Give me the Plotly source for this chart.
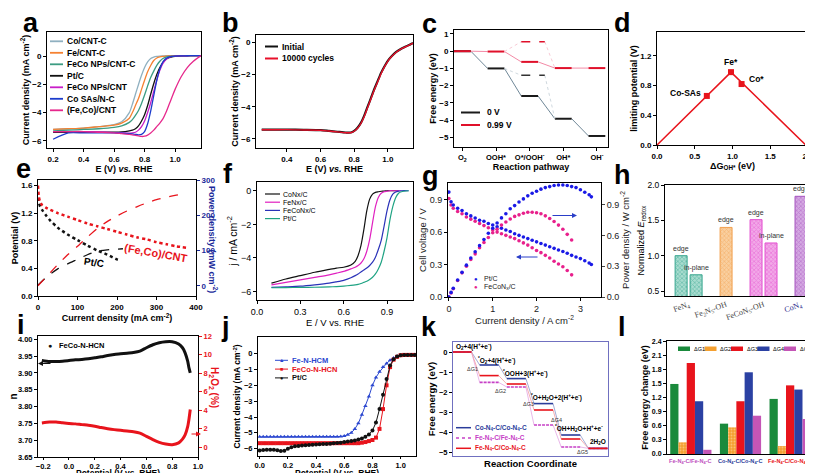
import plotly.graph_objects as go

FONT = "Liberation Sans"
SERIF = "Liberation Serif"
W, H = 813, 473
OFF = 0

# ======================= DATA =======================
# (a) ORR polarization curves
a_E = [0.2, 0.3, 0.4, 0.5, 0.6, 0.65, 0.7, 0.72, 0.74, 0.76, 0.78, 0.8, 0.82, 0.84, 0.86,
       0.88, 0.9, 0.92, 0.94, 0.96, 0.98, 1.0, 1.04, 1.08, 1.12, 1.17]
a_names = ["Co/CNT-C", "Fe/CNT-C", "FeCo NPs/CNT-C", "Pt/C", "FeCo NPs/CNT", "Co SAs/N-C", "(Fe,Co)/CNT"]
a_CoCNTC = [-5.2, -5.15, -5.1, -5.0, -4.85, -4.65, -4.0, -3.4, -2.7, -2.0, -1.35, -0.8, -0.4, -0.15, -0.05,
            0.0, 0.02, 0.03, 0.04, 0.05, 0.05, 0.05, 0.05, 0.05, 0.05, 0.05]
a_FeCNTC = [-5.2, -5.15, -5.1, -5.0, -4.9, -4.75, -4.4, -4.0, -3.5, -3.0, -2.35, -1.7, -1.1, -0.65, -0.3,
            -0.12, -0.04, 0.0, 0.02, 0.03, 0.04, 0.05, 0.05, 0.05, 0.05, 0.05]
a_FeCoNPsCNTC = [-5.3, -5.25, -5.2, -5.15, -5.05, -4.95, -4.7, -4.5, -4.2, -3.85, -3.35, -2.75, -2.1, -1.5, -1.05,
                 -0.65, -0.35, -0.15, -0.05, 0.0, 0.02, 0.03, 0.04, 0.05, 0.05, 0.05]
a_PtC = [-5.4, -5.4, -5.4, -5.4, -5.4, -5.38, -5.3, -5.25, -5.15, -4.95, -4.6, -4.15, -3.5, -2.7, -1.95,
         -1.3, -0.8, -0.45, -0.22, -0.1, -0.03, 0.0, 0.03, 0.04, 0.05, 0.05]
a_FeCoNPsCNT = [-5.35, -5.35, -5.35, -5.38, -5.42, -5.45, -5.47, -5.45, -5.4, -5.25, -5.0, -4.6, -4.0, -3.3, -2.5,
                -1.7, -1.0, -0.5, -0.22, -0.08, 0.0, 0.02, 0.03, 0.04, 0.05, 0.05]
a_CoSAs = [-5.9, -5.45, -5.45, -5.45, -5.45, -5.47, -5.5, -5.52, -5.55, -5.58, -5.55, -5.35, -4.8, -3.9, -2.8,
           -1.7, -0.9, -0.4, -0.15, -0.05, 0.0, 0.02, 0.03, 0.04, 0.05, 0.05]
a_FeCoCNT = [-5.35, -5.35, -5.35, -5.4, -5.45, -5.5, -5.55, -5.58, -5.62, -5.66, -5.7, -5.68, -5.6, -5.45, -5.25,
             -5.0, -4.75, -4.45, -4.0, -3.45, -2.9, -2.35, -1.45, -0.8, -0.35, 0.05]

# (b) stability
b_E = [0.25, 0.3, 0.4, 0.5, 0.6, 0.65, 0.7, 0.75, 0.78, 0.8, 0.82, 0.84, 0.86, 0.88, 0.9, 0.92,
       0.94, 0.96, 0.98, 1.0, 1.02, 1.05, 1.08, 1.1, 1.13, 1.15]
b_names = ["Initial", "10000 cycles"]
b_initial = [-5.42, -5.42, -5.42, -5.43, -5.45, -5.5, -5.55, -5.6, -5.6, -5.5, -5.3, -5.0, -4.55, -4.0, -3.45,
             -2.9, -2.4, -1.9, -1.5, -1.15, -0.9, -0.6, -0.4, -0.3, -0.15, -0.05]
b_cycles = [-5.43, -5.43, -5.42, -5.44, -5.46, -5.51, -5.56, -5.61, -5.61, -5.52, -5.33, -5.04, -4.6, -4.05, -3.5,
            -2.95, -2.45, -1.95, -1.53, -1.18, -0.92, -0.62, -0.41, -0.31, -0.16, -0.06]

# (c) free energy diagram
c_steps = ["O<sub>2</sub>", "OOH*", "O*/OOH<sup>-</sup>", "OH*", "OH<sup>-</sup>"]
c_names = ["0 V", "0.99 V"]
c_0V = [0, -1.0, -2.6, -3.92, -4.92]
c_099V = [0, -0.02, -0.62, -0.98, -0.98]
c_alt_0V = -1.4
c_alt_099V = 0.55

# (d) volcano
d_labels = ["Co-SAs", "Fe*", "Co*"]
d_x = [0.66, 0.98, 1.12]
d_y = [0.66, 0.98, 0.82]
d_volcano_x = [0.0, 0.98, 1.97]
d_volcano_y = [0.0, 0.98, 0.0]

# (e) fuel cell
e_I_fc = [0, 2, 5, 10, 20, 30, 50, 75, 100, 125, 150, 175, 200, 225, 250, 275, 300, 325, 350, 375]
e_V_fc = [1.6, 1.45, 1.37, 1.32, 1.28, 1.25, 1.2, 1.15, 1.1, 1.05, 1.01, 0.97, 0.93, 0.89, 0.85, 0.82,
          0.78, 0.75, 0.72, 0.70]
e_I_pt = [0, 2, 5, 10, 20, 30, 50, 75, 100, 125, 150, 175, 200, 205]
e_V_pt = [1.42, 1.36, 1.3, 1.25, 1.17, 1.1, 0.99, 0.89, 0.81, 0.73, 0.66, 0.6, 0.53, 0.52]
e_Ip_fc = [0, 25, 50, 75, 100, 125, 150, 175, 200, 225, 250, 275, 300, 325, 350, 375]
e_P_fc = [0, 30, 60, 88, 112, 138, 162, 182, 198, 212, 224, 235, 244, 251, 257, 263]
e_Ip_pt = [0, 25, 50, 75, 100, 125, 150, 175, 200, 215]
e_P_pt = [2, 28, 48, 62, 75, 88, 98, 102, 104, 105]
e_names = ["(Fe,Co)/CNT", "Pt/C"]

# (f) LSV
f_E = [0.1, 0.2, 0.3, 0.4, 0.5, 0.55, 0.6, 0.65, 0.68, 0.7, 0.72, 0.74, 0.76, 0.78, 0.8, 0.82,
       0.84, 0.86, 0.88, 0.9, 0.92, 0.94, 0.96, 0.98, 1.0, 1.05]
f_names = ["CoNx/C", "FeNx/C", "FeCoNx/C", "Pt/C"]
f_CoNx = [-5.5, -5.25, -5.05, -4.85, -4.68, -4.6, -4.55, -4.42, -4.2, -3.85, -3.25, -2.3, -1.2, -0.5, -0.2,
          -0.1, -0.06, -0.03, -0.02, 0.0, 0.0, 0.0, 0.0, 0.0, None, None]
f_FeNx = [-5.6, -5.45, -5.3, -5.15, -5.0, -4.9, -4.8, -4.65, -4.55, -4.45, -4.3, -4.05, -3.6, -2.9, -1.9,
          -0.95, -0.4, -0.15, -0.06, -0.03, 0.0, 0.0, 0.0, 0.0, 0.0, None]
f_FeCoNx = [-5.75, -5.72, -5.68, -5.6, -5.5, -5.42, -5.33, -5.18, -5.05, -4.95, -4.83, -4.72, -4.6, -4.45, -4.25,
            -3.95, -3.5, -2.95, -2.1, -1.2, -0.55, -0.2, -0.07, -0.02, 0.0, 0.0]
f_PtC = [-5.77, -5.76, -5.75, -5.74, -5.72, -5.7, -5.67, -5.63, -5.6, -5.57, -5.52, -5.45, -5.38, -5.28, -5.15,
         -4.95, -4.65, -4.25, -3.6, -2.8, -1.75, -0.95, -0.42, -0.15, -0.06, 0.0]

# (g) single cell polarization / power
g_names = ["Pt/C", "FeCoN<sub>x</sub>/C"]
g_I_pt = [0, 0.05, 0.1, 0.2, 0.3, 0.4, 0.5, 0.6, 0.7, 0.8, 0.9, 1.0, 1.1, 1.2, 1.3, 1.4, 1.5, 1.6, 1.7, 1.8,
          1.9, 2.0, 2.1, 2.2, 2.3, 2.4, 2.5, 2.6, 2.7, 2.8, 2.9, 3.0, 3.1, 3.2, 3.25]
g_V_pt = [0.97, 0.88, 0.85, 0.82, 0.80, 0.77, 0.75, 0.73, 0.71, 0.70, 0.68, 0.665, 0.65, 0.635, 0.62, 0.605,
          0.585, 0.57, 0.555, 0.54, 0.525, 0.51, 0.495, 0.48, 0.465, 0.45, 0.435, 0.42, 0.405, 0.385, 0.37,
          0.355, 0.335, 0.315, 0.30]
g_P_pt = [0, 0.045, 0.085, 0.165, 0.24, 0.31, 0.38, 0.44, 0.50, 0.56, 0.62, 0.67, 0.72, 0.77, 0.81, 0.86,
          0.89, 0.925, 0.955, 0.985, 1.01, 1.03, 1.05, 1.065, 1.075, 1.085, 1.09, 1.09, 1.085, 1.075, 1.065,
          1.045, 1.02, 0.995, 0.975]
g_I_fc = [0, 0.05, 0.1, 0.2, 0.3, 0.4, 0.5, 0.6, 0.7, 0.8, 0.9, 1.0, 1.1, 1.2, 1.3, 1.4, 1.5, 1.6, 1.7, 1.8,
          1.9, 2.0, 2.1, 2.2, 2.3, 2.4, 2.5, 2.6, 2.7, 2.8]
g_V_fc = [0.91, 0.85, 0.82, 0.79, 0.77, 0.74, 0.72, 0.70, 0.68, 0.66, 0.64, 0.62, 0.60, 0.585, 0.57, 0.555,
          0.54, 0.52, 0.50, 0.48, 0.455, 0.43, 0.41, 0.385, 0.36, 0.33, 0.305, 0.28, 0.245, 0.205]
g_P_fc = [0, 0.04, 0.08, 0.16, 0.235, 0.30, 0.365, 0.42, 0.48, 0.53, 0.58, 0.625, 0.66, 0.70, 0.73, 0.76,
          0.785, 0.80, 0.815, 0.825, 0.825, 0.82, 0.81, 0.79, 0.765, 0.735, 0.70, 0.66, 0.61, 0.555]

# (h) normalized E_redox
h_cats = ["FeN<sub>4</sub>", "Fe<sub>2</sub>N<sub>5</sub>-OH", "FeCoN<sub>5</sub>-OH", "CoN<sub>4</sub>"]
h_edge = [1.0, 1.4, 1.51, 1.84]
h_inplane = [0.73, None, 1.18, None]

# (i) electron transfer number / H2O2
i_E = [-0.21, -0.15, -0.1, -0.05, 0, 0.05, 0.1, 0.15, 0.2, 0.25, 0.3, 0.35, 0.4, 0.45, 0.5, 0.55, 0.6,
       0.65, 0.7, 0.75, 0.8, 0.85, 0.88, 0.9, 0.92, 0.93, 0.94]
i_n = [3.937, 3.934, 3.934, 3.935, 3.937, 3.939, 3.940, 3.942, 3.945, 3.948, 3.952, 3.955, 3.957, 3.959,
       3.961, 3.965, 3.975, 3.984, 3.990, 3.993, 3.993, 3.986, 3.975, 3.960, 3.935, 3.915, 3.900]
i_h2o2 = [2.6, 2.7, 2.7, 2.62, 2.55, 2.5, 2.42, 2.35, 2.25, 2.1, 1.98, 1.88, 1.8, 1.72, 1.65, 1.5, 1.15,
          0.8, 0.5, 0.32, 0.25, 0.45, 0.85, 1.3, 2.2, 3.0, 4.05]
i_name = "FeCo-N-HCN"

# (j) LSV with markers
j_E = [0, 0.025, 0.05, 0.075, 0.1, 0.125, 0.15, 0.175, 0.2, 0.225, 0.25, 0.275, 0.3, 0.325, 0.35, 0.375,
       0.4, 0.425, 0.45, 0.475, 0.5, 0.525, 0.55, 0.575, 0.6, 0.625, 0.65, 0.675, 0.7, 0.725, 0.75, 0.775,
       0.8, 0.825, 0.85, 0.875, 0.9, 0.925, 0.95, 0.975, 1.0, 1.025, 1.05, 1.075, 1.1]
j_names = ["Fe-N-HCM", "FeCo-N-HCN", "Pt/C"]
j_FeN = [-5.25] * 23 + [-5.23, -5.2, -5.12, -5.0, -4.75, -4.4, -3.85, -3.3, -2.7, -2.0, -1.5, -1.15, -0.85,
                        -0.62, -0.42, -0.28, -0.17, -0.11, -0.08, -0.07, -0.07, -0.07]
j_FeCo = [-5.65] * 29 + [-5.62, -5.58, -5.52, -5.45, -5.3, -4.75, -3.5, -2.0, -0.85, -0.38, -0.2, -0.1,
                         -0.08, -0.08, -0.08, -0.08]
j_Pt = [-6.12, -6.08, -6.06, -6.07, -6.06, -6.1, -6.15, -6.13, -6.0, -5.9, -5.85, -5.83, -5.8, -5.78, -5.77,
        -5.75, -5.73, -5.72, -5.7, -5.7, -5.68, -5.66, -5.64, -5.62, -5.58, -5.55, -5.52, -5.48, -5.42, -5.35,
        -5.25, -5.1, -4.85, -4.35, -3.5, -2.6, -1.6, -0.75, -0.35, -0.18, -0.1, -0.08, -0.08, -0.08, -0.08]

# (k) free energy profiles
k_names = ["Co-N<sub>4</sub>-C/Co-N<sub>4</sub>-C", "Fe-N<sub>4</sub>-C/Fe-N<sub>4</sub>-C",
           "Fe-N<sub>4</sub>-C/Co-N<sub>4</sub>-C"]
k_Co = [0, -0.65, -1.33, -2.58, -4.15, -4.82]
k_FeFe = [0, -1.52, -1.75, -3.65, -4.75, -4.82]
k_FeCo = [0, -1.18, -1.6, -2.9, -4.35, -4.82]
k_states = ["O<sub>2</sub>+4(H<sup>+</sup>+e<sup>-</sup>)", "<sup>*</sup>O<sub>2</sub>+4(H<sup>+</sup>+e<sup>-</sup>)",
            "<sup>*</sup>OOH+3(H<sup>+</sup>+e<sup>-</sup>)", "<sup>*</sup>O+H<sub>2</sub>O+2(H<sup>+</sup>+e<sup>-</sup>)",
            "<sup>*</sup>OH+H<sub>2</sub>O+H<sup>+</sup>+e<sup>-</sup>", "2H<sub>2</sub>O"]
k_steps = ["ΔG1", "ΔG2", "ΔG3", "ΔG4", "ΔG5"]

# (l) free energy change per step
l_cats = k_names[1:2] + k_names[0:1] + k_names[2:3]
l_G1 = [1.5, 0.65, 1.18]
l_G2 = [0.25, 0.57, 0.17]
l_G3 = [1.95, 1.13, 1.47]
l_G4 = [1.13, 1.75, 1.38]
l_G5 = [0.09, 0.82, 0.75]

# ======================= FIGURE =======================
fig = go.Figure()
L = dict(width=W, height=H, margin=dict(l=0, r=0, t=0, b=0, autoexpand=False), paper_bgcolor="white",
         plot_bgcolor="rgba(0,0,0,0)", showlegend=False, barmode="group", bargap=0.17, bargroupgap=0,
         font=dict(family=FONT, color="black"))
shapes, annotations = [], []


def fx(x):
    return (x - OFF) / W


def fy(y):
    return 1 - (y - OFF) / H


def dom_x(a, b):
    return [fx(a), fx(b)]


def dom_y(top, bottom):
    return [fy(bottom), fy(top)]


def axis(title="", bold=True, size=8, tsize=9, color="black", standoff=1, **kw):
    w = "bold" if bold else "normal"
    d = dict(showline=True, linecolor="black", linewidth=1, mirror=True, automargin=False,
             ticks="outside", ticklen=3, tickwidth=1, tickcolor="black",
             showgrid=False, zeroline=False,
             tickfont=dict(family=FONT, size=size, color=color, weight=w),
             title=dict(text=title, font=dict(family=FONT, size=tsize, color=color, weight=w), standoff=standoff))
    d.update(kw)
    return d


def set_panel(n, xpx, ypx, xkw, ykw):
    s = "" if n == 1 else str(n)
    xa = dict(xkw)
    xa.update(domain=dom_x(*xpx), anchor="y" + s)
    ya = dict(ykw)
    ya.update(domain=dom_y(*ypx), anchor="x" + s)
    L["xaxis" + s] = xa
    L["yaxis" + s] = ya


def refs(n):
    return ("x" if n == 1 else "x%d" % n), ("y" if n == 1 else "y%d" % n)


def line(n, x, y, color, width=1.2, dash="solid", shape="spline", yaxis=None, mode="lines", marker=None,
         opacity=1.0):
    xa, ya = refs(n)
    fig.add_trace(go.Scatter(x=x, y=y, mode=mode, xaxis=xa, yaxis=yaxis or ya, opacity=opacity,
                             line=dict(color=color, width=width, dash=dash, shape=shape, smoothing=0.7),
                             marker=marker, showlegend=False, hoverinfo="skip", cliponaxis=True))


def txt(x, y, text, size=8, color="black", bold=True, xanchor="left", yanchor="middle", family=FONT, angle=0):
    annotations.append(dict(xref="paper", yref="paper", x=fx(x), y=fy(y), text=text, showarrow=False,
                            xanchor=xanchor, yanchor=yanchor, textangle=angle,
                            font=dict(family=family, size=size, color=color, weight="bold" if bold else "normal")))


def leg_line(x0, x1, y, color, dash="solid", width=1.5):
    shapes.append(dict(type="line", xref="paper", yref="paper", x0=fx(x0), x1=fx(x1), y0=fy(y),
                       y1=fy(y), line=dict(color=color, width=width, dash=dash)))


def arrow(x_head, y_head, x_tail, color, width=1):
    annotations.append(dict(xref="paper", yref="paper", x=fx(x_head), y=fy(y_head), ax=x_tail - x_head,
                            ay=0, axref="pixel", ayref="pixel", showarrow=True, arrowhead=2, arrowsize=1,
                            arrowwidth=width, arrowcolor=color, text=""))


def level_paths(vals, hw):
    lx, ly, cx, cy = [], [], [], []
    for i, v in enumerate(vals):
        lx += [i - hw, i + hw, None]
        ly += [v, v, None]
        if i + 1 < len(vals):
            cx += [i + hw, i + 1 - hw, None]
            cy += [v, vals[i + 1], None]
    return lx, ly, cx, cy


# ---------- (a) ----------
set_panel(1, (39, 193), (24, 140),
          axis("E (V) <i>vs.</i> RHE", range=[0.16, 1.17], tickvals=[0.2, 0.4, 0.6, 0.8, 1.0], tickformat=".1f"),
          axis("Current density (mA cm<sup>-2</sup>)", range=[-6.52, 1.73], tickvals=[0, -2, -4, -6]))
a_colors = ["#8fb0c0", "#f58232", "#3c9c82", "#111111", "#c81ec8", "#1c3ccc", "#e6288c"]
a_series = [a_CoCNTC, a_FeCNTC, a_FeCoNPsCNTC, a_PtC, a_FeCoNPsCNT, a_CoSAs, a_FeCoCNT]
for ser, col in zip(a_series, a_colors):
    line(1, a_E, ser, col, width=1.3)
for k, (nm, col) in enumerate(zip(a_names, a_colors)):
    y = 33.3 + k * 11.5
    leg_line(42, 55, y, col, width=1.8)
    txt(57, y, nm, size=8.5)

# ---------- (b) ----------
set_panel(2, (248, 405), (27, 140),
          axis("E (V) <i>vs.</i> RHE", range=[0.216, 1.15], tickvals=[0.4, 0.6, 0.8, 1.0], tickformat=".1f"),
          axis("Current density (mA cm<sup>-2</sup>)", range=[-6.56, 0.45], tickvals=[0, -2, -4, -6]))
b_colors = ["#111111", "#e8102a"]
line(2, b_E, b_initial, b_colors[0], width=2.2)
line(2, b_E, b_cycles, b_colors[1], width=1.4)
for k, (nm, col) in enumerate(zip(b_names, b_colors)):
    y = 38.5 + k * 12
    leg_line(257, 270, y, col, width=2)
    txt(272, y, nm, size=8.5)

# ---------- (c) ----------
set_panel(3, (446, 600), (22, 139),
          axis("Reaction pathway", range=[-0.25, 4.33], tickvals=list(range(len(c_steps))), ticktext=c_steps,
               size=7.5),
          axis("Free energy (eV)", range=[-5.56, 1.23], tickvals=[1, 0, -1, -2, -3, -4, -5]))
hw = 0.25
for vals, lc, cc in [(c_0V, "#1a1a1a", "#6f8797"), (c_099V, "#e0102a", "#f38aa6")]:
    lx, ly, cx, cy = level_paths(vals, hw)
    line(3, cx, cy, cc, width=1, shape="linear")
    line(3, lx, ly, lc, width=2, shape="linear")
for alt, src, col, fcol in [(c_alt_0V, c_0V, "#333333", "#d0d9df"), (c_alt_099V, c_099V, "#e0102a", "#f8cbd6")]:
    line(3, [1 + hw, 2 - hw, None, 2 + hw + 0.2, 3 - hw], [src[1], alt, None, alt, src[3]], fcol, width=1,
         dash="dot", shape="linear")
    line(3, [2 - hw, 2 + hw + 0.2], [alt, alt], col, width=1.5, dash="dash", shape="linear")
for k, (nm, col) in enumerate(zip(c_names, ["#1a1a1a", "#e0102a"])):
    y = 104.5 + k * 12.5
    leg_line(453, 472, y, col, width=2)
    txt(477, y, nm, size=8.5)

# ---------- (d) ----------
set_panel(4, (649, 800), (24, 137),
          axis("ΔG<sub>OH*</sub> (eV)", range=[0, 2.0], tickvals=[0, 0.5, 1.0, 1.5, 2.0], tickformat=".1f"),
          axis("limiting potential (V)", range=[0, 1.52], tickvals=[0, 0.4, 0.8, 1.2], tickformat=".1f"))
line(4, d_volcano_x, d_volcano_y, "#e8141c", width=1.5, shape="linear")
line(4, d_x, d_y, "#e8141c", mode="markers", marker=dict(symbol="square", size=6, color="#e8141c"))
d_label_style = [("right", -4, 3), ("center", 0, 10), ("left", 5, 5)]
for lab, x, y, (xa, dx, dy) in zip(d_labels, d_x, d_y, d_label_style):
    annotations.append(dict(xref="x4", yref="y4", x=x, y=y, text=lab, showarrow=False, xanchor=xa,
                            yanchor="middle", xshift=dx, yshift=dy,
                            font=dict(family=FONT, size=8.5, color="black", weight="bold")))

# ---------- (e) ----------
set_panel(5, (30, 188), (172, 288),
          axis("Current density (mA cm<sup>-2</sup>)", range=[0, 400], tickvals=[0, 100, 200, 300, 400]),
          axis("Potential (V)", range=[0, 1.68], tickvals=[0, 0.4, 0.8, 1.2, 1.6], tickformat=".1f"))
L["yaxis13"] = dict(overlaying="y5", anchor="x5", side="right", range=[-29, 300], tickvals=[0, 100, 200, 300],
                    showline=False, showgrid=False, zeroline=False, ticks="outside", ticklen=3, automargin=False,
                    tickcolor="#1a2a9a", tickfont=dict(family=FONT, size=8, color="#1a2a9a", weight="bold"))
line(5, e_Ip_pt, e_P_pt, "#111111", width=1.3, dash="dash", yaxis="y13")
line(5, e_Ip_fc, e_P_fc, "#e8141c", width=1.3, dash="dash", yaxis="y13")
line(5, e_I_pt, e_V_pt, "#111111", width=2.5, dash="dot")
line(5, e_I_fc, e_V_fc, "#e8141c", width=2.5, dash="dot")
annotations.append(dict(xref="x5", yref="y5", x=299, y=0.62, text=e_names[0], showarrow=False, textangle=10,
                        font=dict(family=FONT, size=11, color="#e8141c", weight="bold")))
annotations.append(dict(xref="x5", yref="y5", x=142, y=0.49, text=e_names[1], showarrow=False, textangle=8,
                        font=dict(family=FONT, size=10, color="black", weight="bold")))
txt(205, 231, "Power density (mW cm<sup>-2</sup>)", size=9, color="#1a2a9a", xanchor="center", angle=90)

# ---------- (f) ----------
set_panel(6, (249, 405), (174, 292),
          axis("E / V vs. RHE", bold=False, size=9, tsize=9.5, range=[0, 1.08], tickvals=[0, 0.3, 0.6, 0.9],
               tickformat=".1f"),
          axis("j / mA cm<sup>-2</sup>", bold=False, size=9, tsize=10.5, range=[-6.5, 0.52],
               tickvals=[0, -2, -4, -6]))
f_colors = ["#111111", "#e020c0", "#2a32b8", "#1fa383"]
for ser, col in zip([f_CoNx, f_FeNx, f_FeCoNx, f_PtC], f_colors):
    line(6, f_E, ser, col, width=1.2)
for k, (nm, col) in enumerate(zip(f_names, f_colors)):
    y = 186 + k * 8.2
    leg_line(257, 272, y, col, width=1.2)
    txt(273, y, nm, size=7, bold=False)

# ---------- (g) ----------
set_panel(7, (440, 593), (175, 289),
          axis("Current density / A cm<sup>-2</sup>", bold=False, size=9, tsize=9.5, color="#222222",
               range=[-0.02, 3.47], tickvals=[0, 1, 2, 3]),
          axis("Cell voltage / V", bold=False, size=9, tsize=9.5, color="#222222", range=[0, 1.054],
               tickvals=[0, 0.3, 0.6, 0.9], tickformat=".1f"))
L["yaxis14"] = dict(overlaying="y7", anchor="x7", side="right", range=[0, 1.11], tickvals=[0, 0.3, 0.6, 0.9],
                    tickformat=".1f", showline=False, showgrid=False, zeroline=False, ticks="outside", ticklen=3,
                    automargin=False, tickfont=dict(family=FONT, size=9, color="#222222"),
                    title=dict(text="Power density / W cm<sup>-2</sup>", standoff=4,
                               font=dict(family=FONT, size=9.5, color="#222222")))
g_colors = ["#1a1ae6", "#e8208c"]
mk = lambda c: dict(symbol="circle", size=3.6, color=c)
line(7, g_I_fc, g_V_fc, g_colors[1], mode="markers", marker=mk(g_colors[1]))
line(7, g_I_fc, g_P_fc, g_colors[1], mode="markers", marker=mk(g_colors[1]), yaxis="y14")
line(7, g_I_pt, g_V_pt, g_colors[0], mode="markers", marker=mk(g_colors[0]))
line(7, g_I_pt, g_P_pt, g_colors[0], mode="markers", marker=mk(g_colors[0]), yaxis="y14")
arrow(569, 207.5, 543, "#2a3ec8")
arrow(508, 249, 531, "#2a3ec8")
for k, (nm, col) in enumerate(zip(g_names, g_colors)):
    y = 270.5 + k * 8.5
    txt(468, y, "●", size=6, color=col, bold=False, xanchor="center")
    txt(474, y, nm, size=7, color="#222222", bold=False)

# ---------- (h) ----------
h_colors = ["#35a58e", "#f2a04e", "#e34fd0", "#a653bf"]
h_fill = ["#a8dccf", "#f9cf9f", "#f2a8e8", "#d4a8e2"]
h_tick_colors = ["#444444", "#444444", "#444444", "#2a2a8a"]
set_panel(8, (657, 805), (177, 288),
          axis("", bold=False, size=8, range=[-0.63, 3.32], tickvals=list(range(len(h_cats))),
               ticktext=['<span style="color:%s">%s</span>' % (c, t) for c, t in zip(h_tick_colors, h_cats)],
               tickangle=-20, ticks="", tickfont=dict(family=SERIF, size=8, color="#444444")),
          axis("Normalized <i>E</i><sub>redox</sub>", bold=False, size=8.5, tsize=9, range=[0.43, 2.0],
               tickvals=[0.5, 1.0, 1.5, 2.0], tickformat=".1f"))
for i, (edge, inp) in enumerate(zip(h_edge, h_inplane)):
    off = 0.2 if inp is not None else 0.0
    pairs = [(i - off, edge, "edge")]
    if inp is not None:
        pairs.append((i + off, inp, "in-plane"))
    for xpos, val, lab in pairs:
        fig.add_trace(go.Bar(x=[xpos], y=[val], width=0.32, xaxis="x8", yaxis="y8", offsetgroup="h",
                             marker=dict(color=h_fill[i], line=dict(color=h_colors[i], width=1),
                                         pattern=dict(shape="x", fgcolor=h_colors[i], bgcolor=h_fill[i],
                                                      size=3, solidity=0.45)),
                             showlegend=False, hoverinfo="skip"))
        annotations.append(dict(xref="x8", yref="y8", x=xpos, y=val, text=lab, showarrow=False,
                                xanchor="center", yanchor="bottom", yshift=1,
                                font=dict(family=FONT, size=7, color="#333333")))

# ---------- (i) ----------
set_panel(9, (30, 190), (328, 449),
          axis("", range=[-0.24, 1.0], tickvals=[-0.2, 0, 0.2, 0.4, 0.6, 0.8, 1.0],
               tickformat=".1f", size=7.5, ticklen=2),
          axis("n", range=[3.65, 4.01], tickvals=[3.65, 3.70, 3.75, 3.80, 3.85, 3.90, 3.95, 4.00],
               tickformat=".2f", size=7.5, tsize=10))
L["yaxis15"] = dict(overlaying="y9", anchor="x9", side="right", range=[-1.08, 12], automargin=False,
                    tickvals=[0, 2, 4, 6, 8, 10, 12], showline=False, showgrid=False, zeroline=False,
                    ticks="outside", ticklen=3, tickcolor="#e8141c",
                    tickfont=dict(family=FONT, size=7.5, color="#e8141c", weight="bold"))
line(9, i_E, i_n, "#111111", width=3)
line(9, i_E, i_h2o2, "#e8141c", width=3, yaxis="y15")
arrow(30, 355.5, 44, "#111111")
arrow(193, 426, 182, "#e8141c")
txt(206, 379, "H<sub>2</sub>O<sub>2</sub> (%)", size=10, color="#e8141c", xanchor="center", angle=90)
txt(41.5, 337.5, "●", size=7, color="#111111", xanchor="center")
txt(49, 337.5, i_name, size=7.5)
txt(110, 464.5, "Potential (V vs. RHE)", size=8.5, xanchor="center")

# ---------- (j) ----------
set_panel(10, (250, 408), (329, 448),
          axis("", range=[-0.012, 1.109], tickvals=[0, 0.2, 0.4, 0.6, 0.8, 1.0],
               tickformat=".1f", size=7.5, ticklen=2),
          axis("Current density (mA cm<sup>-2</sup>)", range=[-6.46, 1.05], tickvals=[0, -1, -2, -3, -4, -5, -6],
               size=7.5, tsize=8.5))
j_colors = ["#2c48d0", "#e8141c", "#111111"]
j_symbols = ["triangle-up", "square", "circle"]
for ser, col, sym in zip([j_FeN, j_FeCo, j_Pt], j_colors, j_symbols):
    line(10, j_E, ser, col, width=1, shape="linear", mode="lines+markers",
         marker=dict(symbol=sym, size=4, color=col))
for k, (nm, col, ch) in enumerate(zip(j_names, j_colors, ["▲", "■", "●"])):
    y = 352.3 + k * 8.8
    leg_line(267, 280, y, col, width=1)
    txt(273.5, y, ch, size=5.5, color=col, bold=False, xanchor="center")
    txt(282, y, nm, size=7.5, color=col)
txt(329, 464.5, "Potential (V vs. RHE)", size=8.5, xanchor="center")

# ---------- (k) ----------
set_panel(11, (445, 600), (334, 448),
          axis("Reaction Coordinate", range=[-0.33, 5.37], showticklabels=False, ticks="", tsize=9.5, standoff=4,
               linecolor="#7070c0"),
          axis("Free energy (eV)", range=[-5.2, 0.5], tickvals=[0, -1, -2, -3, -4, -5], size=7.5, tsize=9.5,
               linecolor="#7070c0"))
k_colors = ["#2b3d9b", "#c640c6", "#e8141c"]
k_conn = ["#8c97cc", "#e3a5e3", "#f39aa0"]
k_dash = ["solid", "3px,1px", "solid"]
for vals, col, cc, ds in zip([k_Co, k_FeFe, k_FeCo], k_colors, k_conn, k_dash):
    lx, ly, cx, cy = level_paths(vals, 0.35)
    line(11, cx, cy, cc, width=0.8, shape="linear")
    line(11, lx, ly, col, width=1.6, dash=ds, shape="linear")
k_state_pos = [(-0.3, 0.3), (0.5, -0.42), (1.45, -1.09), (2.45, -2.29), (3.35, -3.83), (4.62, -4.5)]
for t, (x, y) in zip(k_states, k_state_pos):
    annotations.append(dict(xref="x11", yref="y11", x=x, y=y, text=t, showarrow=False, xanchor="left",
                            yanchor="middle", font=dict(family=FONT, size=6.5, color="black", weight="bold")))
k_step_pos = [(0.4, -0.87), (1.42, -1.96), (2.43, -2.62), (3.47, -3.41), (4.45, -5.02)]
for t, (x, y) in zip(k_steps, k_step_pos):
    annotations.append(dict(xref="x11", yref="y11", x=x, y=y, text=t, showarrow=False, xanchor="center",
                            yanchor="middle", font=dict(family=FONT, size=5.5, color="#333333")))
for k, (nm, col, ds) in enumerate(zip(k_names, k_colors, ["solid", "dot", "solid"])):
    y = 419.7 + k * 10.3
    leg_line(448, 463, y, col, dash=ds, width=1.5)
    txt(465, y, nm, size=6.5, color=col)

# ---------- (l) ----------
l_tick_colors = ["#c050c0", "#2a3a9a", "#e8141c"]
set_panel(12, (659, 802), (333, 446),
          axis("", range=[-0.48, 2.4], tickvals=[0, 1, 2], showticklabels=False, ticks=""),
          axis("Free energy change (eV)", range=[0, 2.42], tickvals=[0, 0.3, 0.6, 0.9, 1.2, 1.5, 1.8, 2.1, 2.4],
               tickformat=".1f", size=7, tsize=9))
for k, (lab, col) in enumerate(zip(l_cats, l_tick_colors)):
    annotations.append(dict(xref="x12", yref="paper", x=k, y=fy(453), text=lab, showarrow=False,
                            xanchor="center", yanchor="middle",
                            font=dict(family=FONT, size=5.6, color=col, weight="bold")))
l_colors = ["#1a8a3c", "#f5a030", "#e8141c", "#2b41a3", "#c455b6"]
for k, (ser, col) in enumerate(zip([l_G1, l_G2, l_G3, l_G4, l_G5], l_colors)):
    pat = dict(shape=".", fgcolor="#fde2b8", size=3, solidity=0.3) if k == 1 else None
    fig.add_trace(go.Bar(x=[0, 1, 2], y=ser, xaxis="x12", yaxis="y12", name=k_steps[k],
                         marker=dict(color=col, line=dict(width=0), pattern=pat),
                         showlegend=False, hoverinfo="skip"))
for k, (nm, col) in enumerate(zip(k_steps, l_colors)):
    x0 = 670 + k * 26.5
    shapes.append(dict(type="rect", xref="paper", yref="paper", x0=fx(x0), x1=fx(x0 + 12),
                       y0=fy(343), y1=fy(338.5), fillcolor=col, line=dict(width=0)))
    txt(x0 + 13.5, 340.8, nm, size=5.5, bold=False)

# ---------- panel letters ----------
for lab, (x, y) in zip("abcdefghijkl", [(23, 15), (222, 15), (422, 16), (614, 15), (15, 161), (220, 166),
                                          (423, 168), (614, 167), (13, 317), (217, 319), (421, 319), (614, 319)]):
    txt(x, y, lab, size=27, xanchor="center")

L["shapes"] = shapes
L["annotations"] = annotations
fig.update_layout(**L)
fig.write_html("out.html")
